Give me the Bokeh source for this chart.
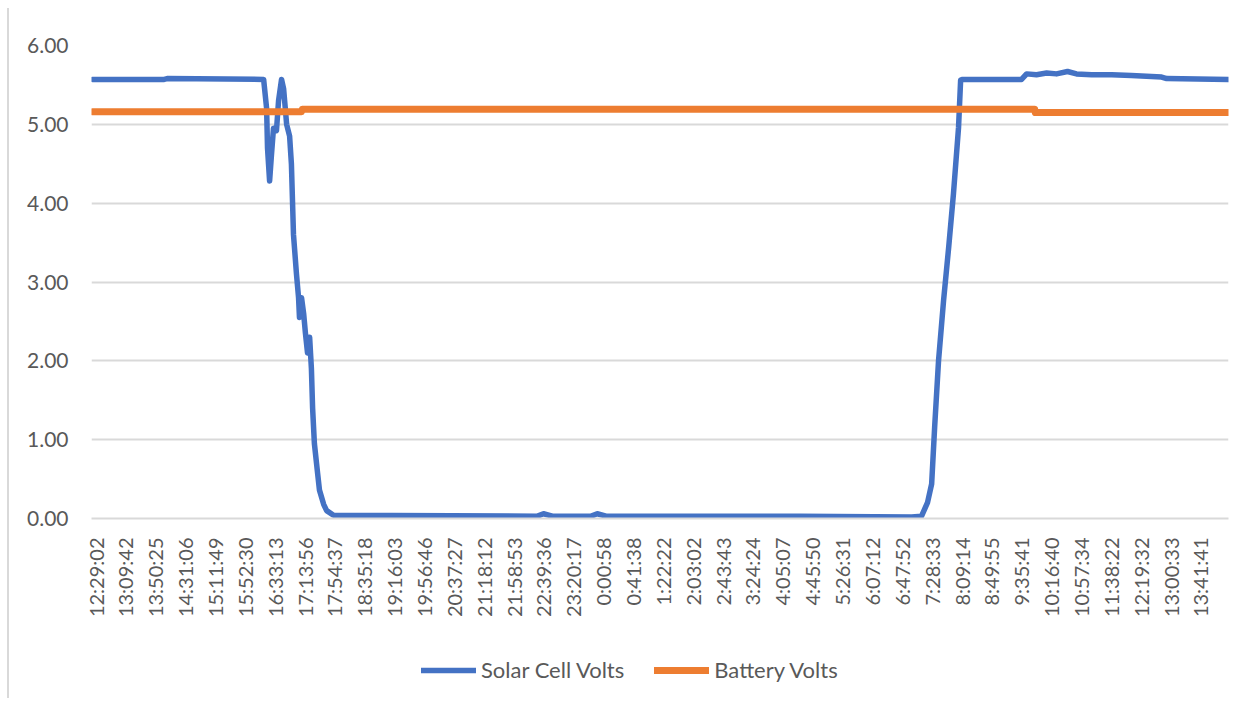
import math
from bokeh.plotting import figure
from bokeh.layouts import column
from bokeh.models import Range1d, FixedTicker, Legend, LegendItem, CustomJSTickFormatter
from bokeh.embed import file_html
from bokeh.resources import INLINE

# Category tick labels (time stamps), positions are label indexes
time_labels = ["12:29:02", "13:09:42", "13:50:25", "14:31:06", "15:11:49", "15:52:30",
               "16:33:13", "17:13:56", "17:54:37", "18:35:18", "19:16:03", "19:56:46",
               "20:37:27", "21:18:12", "21:58:53", "22:39:36", "23:20:17", "0:00:58",
               "0:41:38", "1:22:22", "2:03:02", "2:43:43", "3:24:24", "4:05:07",
               "4:45:50", "5:26:31", "6:07:12", "6:47:52", "7:28:33", "8:09:14",
               "8:49:55", "9:35:41", "10:16:40", "10:57:34", "11:38:22", "12:19:32",
               "13:00:33", "13:41:41"]

# Solar cell volts: position (in label steps) and value
solar_pos = [-0.1, 2.3, 2.4, 5.63, 5.73, 5.76, 5.83, 5.89, 5.96, 6.06, 6.13, 6.23, 6.30,
             6.40, 6.50, 6.56, 6.63, 6.73, 6.80, 6.83, 6.90, 6.97, 7.03, 7.10, 7.17,
             7.23, 7.27, 7.33, 7.43, 7.50, 7.64, 7.74, 7.97, 14.8, 15.0, 15.3, 16.6,
             16.8, 17.1, 23.6, 27.33, 27.66, 27.86, 28.0, 28.1, 28.23, 28.4, 28.57,
             28.73, 28.9, 28.97, 29.04, 31.01, 31.18, 31.51, 31.85, 32.18, 32.55,
             32.85, 33.36, 34.03, 34.69, 35.7, 35.87, 37.94]
solar_volts = [5.57, 5.57, 5.58, 5.57, 5.2, 4.7, 4.28, 4.6, 4.95, 4.92, 5.3, 5.57, 5.45,
               5.0, 4.85, 4.5, 3.6, 3.1, 2.8, 2.55, 2.8, 2.6, 2.35, 2.1, 2.3,
               1.9, 1.4, 0.95, 0.6, 0.36, 0.18, 0.10, 0.04, 0.03, 0.06, 0.03, 0.03,
               0.06, 0.03, 0.03, 0.02, 0.03, 0.2, 0.44, 1.16, 2.0, 2.77, 3.44,
               4.12, 4.96, 5.56, 5.57, 5.57, 5.64, 5.63, 5.65, 5.64, 5.67,
               5.64, 5.63, 5.63, 5.62, 5.60, 5.58, 5.57]

# Battery volts
battery_pos = [-0.1, 6.9, 6.92, 31.45, 31.47, 37.94]
battery_volts = [5.16, 5.16, 5.19, 5.19, 5.15, 5.15]

series_names = ["Solar Cell Volts", "Battery Volts"]

BLUE = "#4472C4"
ORANGE = "#ED7D31"
GRID = "#D9D9D9"
TEXT = "#595959"
FONT = "Lato"

p = figure(frame_width=1137, frame_height=473, output_backend="svg", toolbar_location=None,
           x_range=Range1d(-0.134, 37.94), y_range=Range1d(0, 6),
           min_border_left=82, min_border_right=17, min_border_top=37,
           min_border_bottom=120)
p.outline_line_color = None

p.line(solar_pos, solar_volts, line_color=BLUE, line_width=5.5,
       line_join="round", line_cap="round")
p.line(battery_pos, battery_volts, line_color=ORANGE, line_width=7,
       line_join="round", line_cap="round")

# y axis
p.yaxis.ticker = FixedTicker(ticks=[0, 1, 2, 3, 4, 5, 6])
p.yaxis.formatter = CustomJSTickFormatter(code="return tick.toFixed(2);")
p.yaxis.axis_line_color = None
p.yaxis.major_tick_line_color = None
p.yaxis.minor_tick_line_color = None
p.yaxis.major_label_text_font = FONT
p.yaxis.major_label_text_font_size = "21px"
p.yaxis.major_label_text_color = TEXT
p.yaxis.major_label_standoff = 17

# x axis
p.xaxis.ticker = FixedTicker(ticks=list(range(len(time_labels))))
p.xaxis.major_label_overrides = {i: t for i, t in enumerate(time_labels)}
p.xaxis.major_label_orientation = math.pi / 2
p.xaxis.axis_line_color = GRID
p.xaxis.axis_line_width = 2
p.xaxis.major_tick_line_color = None
p.xaxis.minor_tick_line_color = None
p.xaxis.major_label_text_font = FONT
p.xaxis.major_label_text_font_size = "20px"
p.xaxis.major_label_text_color = TEXT
p.xaxis.major_label_standoff = 13

p.xgrid.grid_line_color = None
p.ygrid.grid_line_color = GRID
p.ygrid.grid_line_width = 2

# Legend strip below the chart (key lines only, kept outside the visible range)
lg = figure(width=1236, height=60, output_backend="svg", toolbar_location=None,
            x_range=Range1d(0, 1), y_range=Range1d(0, 1),
            x_axis_location=None, y_axis_location=None,
            min_border_left=0, min_border_right=0, min_border_top=0, min_border_bottom=0)
lg.outline_line_color = None
lg.xgrid.grid_line_color = None
lg.ygrid.grid_line_color = None
k_solar = lg.line([-10, -9], [-10, -10], line_color=BLUE, line_width=5.5, line_cap="round")
k_batt = lg.line([-10, -9], [-10, -10], line_color=ORANGE, line_width=7, line_cap="round")

legend = Legend(items=[LegendItem(label=series_names[0], renderers=[k_solar]),
                       LegendItem(label=series_names[1], renderers=[k_batt])],
                orientation="horizontal", location=(330, 15))
legend.border_line_color = None
legend.background_fill_alpha = 0
legend.label_text_font = FONT
legend.label_text_font_size = "22px"
legend.label_text_color = TEXT
legend.glyph_width = 55
legend.label_standoff = 5
legend.spacing = 30
legend.padding = 0
legend.margin = 0
lg.add_layout(legend, "center")

layout = column(p, lg, spacing=0)
layout.styles = {"border-left": "2px solid #D9D9D9", "margin-left": "7px", "margin-top": "8px"}

open("out.html", "w").write(file_html(layout, INLINE))
